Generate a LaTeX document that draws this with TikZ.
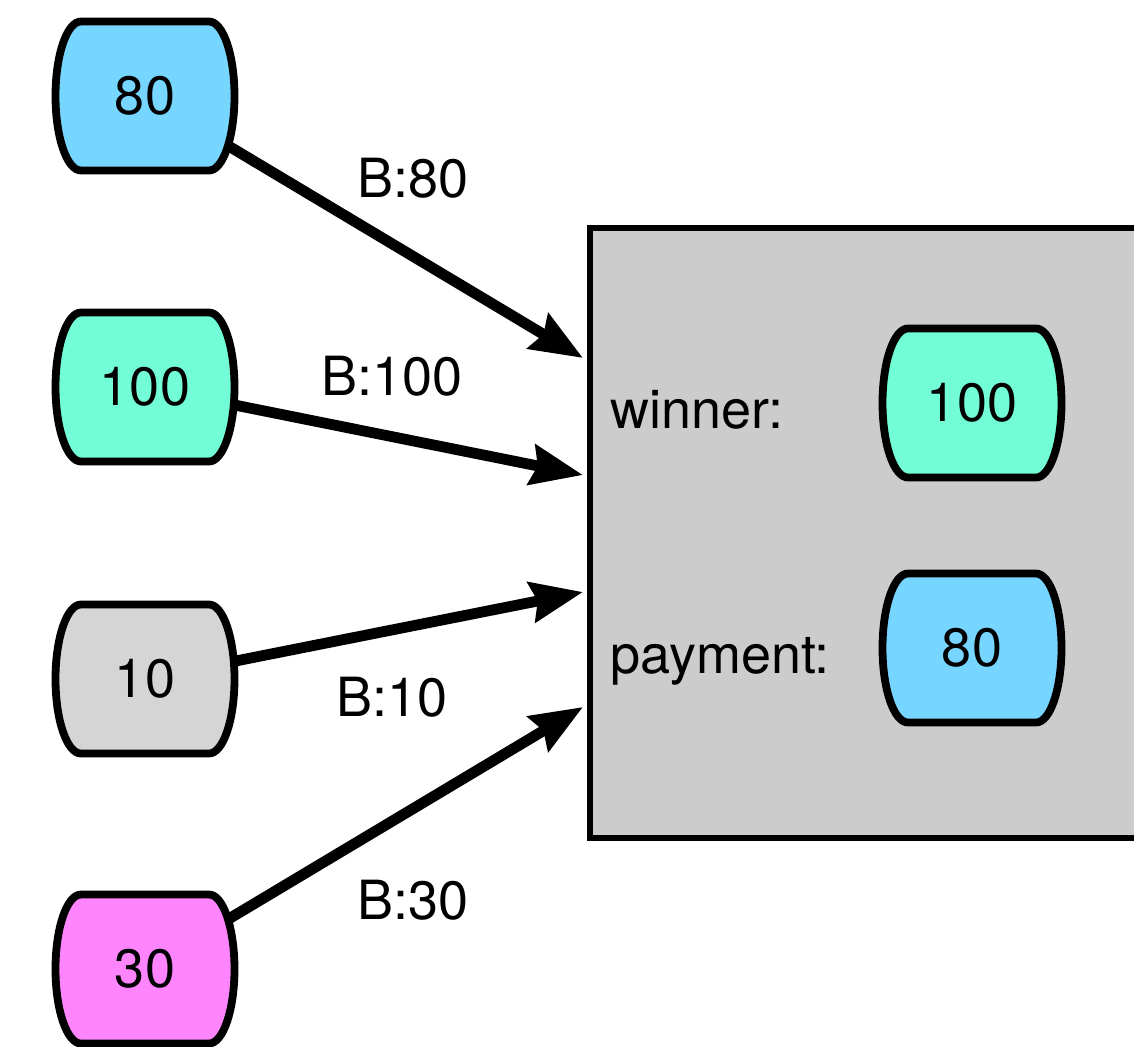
\documentclass[tikz,border=0pt]{standalone}
\usepackage{fontspec}
\setmainfont{TeX Gyre Heros}
\usepackage{xcolor}
\usetikzlibrary{arrows.meta,backgrounds,calc}

\definecolor{skyblue}{HTML}{76D6FF}
\definecolor{seafoam}{HTML}{73FDD6}
\definecolor{palegrey}{HTML}{D5D5D5}
\definecolor{bubblegum}{HTML}{FF85FF}
\definecolor{boxgrey}{HTML}{CCCCCC}

% barrel shaped bidder: name, centre, fill, value
\newcommand{\bidder}[4]{%
  \draw[barrel, fill=#3] ($(#2)+(-64,-74.5)$) -- ++(128,0)
    arc[start angle=-90, end angle=90, x radius=25.5, y radius=74.5]
    -- ++(-128,0)
    arc[start angle=90, end angle=270, x radius=25.5, y radius=74.5] -- cycle;
  \node[bidtext] (#1) at (#2) {#4};
}

\begin{document}
\begin{tikzpicture}[
    x=0.5pt, y=-0.5pt,
    barrel/.style={draw=black, line width=3.9pt, line join=round},
    bidtext/.style={inner sep=0pt, minimum width=89pt, minimum height=75pt, font=\fontsize{27}{32}\selectfont},
    auctionbox/.style={rectangle, draw=black, fill=boxgrey, line width=3.4pt, minimum width=300pt, minimum height=305pt, inner sep=0pt},
    arrow/.style={-{Stealth[length=26pt, width=20pt, inset=3pt]}, line width=5.4pt},
    label/.style={inner sep=0pt, font=\fontsize{27}{32}\selectfont},
    caption/.style={inner sep=0pt, anchor=base west, font=\fontsize{27}{32}\selectfont}
]
    \useasboundingbox (0,0) rectangle (1134,1046);
    \clip (0,0) rectangle (1134,1046);

    % Auction box (right, runs off the page)
    \node[auctionbox] (auction) at (890,533) {};
    \node[caption] (winner) at (610,428) {winner:};
    \node[caption] (payment) at (610,673) {payment:};

    % Bidders (left side)
    \bidder{b80}{145,96}{skyblue}{80}
    \bidder{b100}{145,387}{seafoam}{100}
    \bidder{b10}{145,679}{palegrey}{10}
    \bidder{b30}{145,969}{bubblegum}{30}

    % Result (inside the box)
    \bidder{win}{972,403}{seafoam}{100}
    \bidder{pay}{972,648}{skyblue}{80}

    % Arrow tips on the box
    \coordinate (in1) at (583,358);
    \coordinate (in2) at (583,475);
    \coordinate (in3) at (583,592);
    \coordinate (in4) at (583,707);

    % Bids
    \begin{scope}[on background layer]
    \draw[arrow] (b80.center) -- node[label, pos=0.612, above=26.5pt] {B:80} (in1);
    \draw[arrow] (b100.center) -- node[label, pos=0.564, above=17.3pt] {B:100} (in2);
    \draw[arrow] (b10.center) -- node[label, pos=0.564, below=21pt] {B:10} (in3);
    \draw[arrow] (b30.center) -- node[label, pos=0.612, below=33pt] {B:30} (in4);
    \end{scope}

\end{tikzpicture}
\end{document}
